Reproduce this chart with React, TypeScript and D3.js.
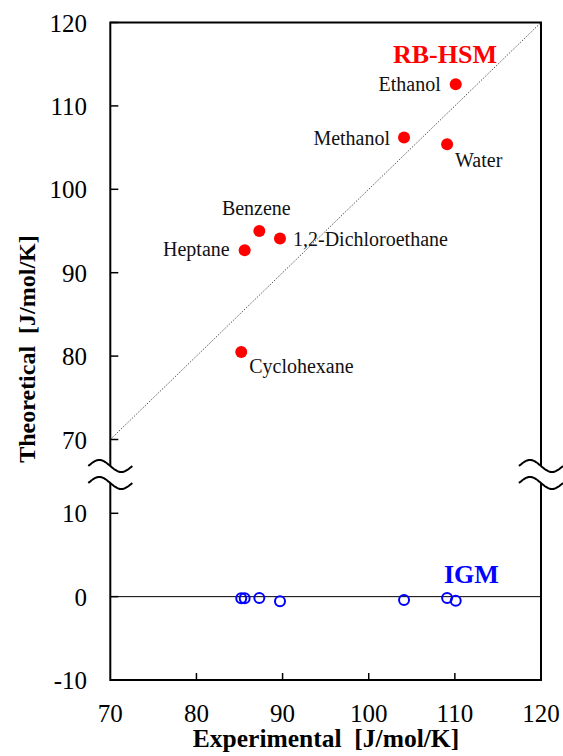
import React, { useEffect, useRef } from "react";
import * as d3 from "d3";

// solvents, experimental vs theoretical entropy [J/mol/K]
const solvents = ["Ethanol", "Methanol", "Water", "Benzene", "1,2-Dichloroethane", "Heptane", "Cyclohexane"];
const experimental = [110.1, 104.1, 109.1, 87.3, 89.7, 85.6, 85.2];
const rbHsm = [112.6, 106.2, 105.4, 95.0, 94.1, 92.7, 80.5];
const igm = [-0.5, -0.4, -0.15, -0.15, -0.55, -0.2, -0.2];

const xTicks = [70, 80, 90, 100, 110, 120];
const yUpperTicks = [70, 80, 90, 100, 110, 120];
const yLowerTicks = [-10, 0, 10];

// where each label sits relative to its dot
const labelPlace: Record<string, { dx: number; dy: number; anchor: string }> = {
  Ethanol: { dx: -15, dy: 7, anchor: "end" },
  Methanol: { dx: -14, dy: 7, anchor: "end" },
  Water: { dx: 8, dy: 23, anchor: "start" },
  Benzene: { dx: -3, dy: -16, anchor: "middle" },
  "1,2-Dichloroethane": { dx: 13, dy: 7, anchor: "start" },
  Heptane: { dx: -15, dy: 6, anchor: "end" },
  Cyclohexane: { dx: 8, dy: 21, anchor: "start" },
};

const FONT = "'Liberation Serif', 'Times New Roman', serif";

const App = () => {
  const svgRef = useRef<SVGSVGElement>(null);

  useEffect(() => {
    const width = 563;
    const height = 756;
    const left = 110.3;
    const right = 541;
    const top = 22.5;
    const bottom = 680;

    const svg = d3.select(svgRef.current).attr("width", width).attr("height", height);
    svg.selectAll("*").remove();

    const x = d3.scaleLinear().domain([70, 120]).range([left, right]);
    const yUp = d3.scaleLinear().domain([70, 120]).range([439.5, top]);
    const yLow = d3.scaleLinear().domain([-10, 10]).range([bottom, 513.3]);

    const g = svg.append("g");

    // y = x reference line
    g.append("line")
      .attr("x1", x(70))
      .attr("y1", yUp(70))
      .attr("x2", x(120))
      .attr("y2", yUp(120))
      .attr("stroke", "#555")
      .attr("stroke-width", 1)
      .attr("stroke-dasharray", "1.5,1.5");

    // zero line
    g.append("line")
      .attr("x1", left)
      .attr("x2", right)
      .attr("y1", yLow(0))
      .attr("y2", yLow(0))
      .attr("stroke", "#000")
      .attr("stroke-width", 1);

    // frame
    g.append("rect")
      .attr("x", left)
      .attr("y", top)
      .attr("width", right - left)
      .attr("height", bottom - top)
      .attr("fill", "none")
      .attr("stroke", "#000")
      .attr("stroke-width", 2);

    // ticks (inward)
    g.selectAll(".xt")
      .data(xTicks.slice(1, -1))
      .enter()
      .append("line")
      .attr("x1", (d) => x(d))
      .attr("x2", (d) => x(d))
      .attr("y1", bottom)
      .attr("y2", bottom - 7)
      .attr("stroke", "#000")
      .attr("stroke-width", 1.5);

    const yTickPos = [
      ...yUpperTicks.map((d) => ({ v: d, y: yUp(d) })),
      ...yLowerTicks.map((d) => ({ v: d, y: yLow(d) })),
    ];
    g.selectAll(".yt")
      .data(yTickPos)
      .enter()
      .append("line")
      .attr("x1", left)
      .attr("x2", left + 8)
      .attr("y1", (d) => d.y)
      .attr("y2", (d) => d.y)
      .attr("stroke", "#000")
      .attr("stroke-width", 1.5);

    // tick labels
    g.selectAll(".xl")
      .data(xTicks)
      .enter()
      .append("text")
      .attr("x", (d) => x(d))
      .attr("y", 721.5)
      .attr("text-anchor", "middle")
      .attr("font-family", FONT)
      .attr("font-size", 25)
      .text((d) => d);

    g.selectAll(".yl")
      .data(yTickPos)
      .enter()
      .append("text")
      .attr("x", 87)
      .attr("y", (d) => d.y + 9)
      .attr("text-anchor", "end")
      .attr("font-family", FONT)
      .attr("font-size", 25)
      .text((d) => d.v);

    // axis break marks
    const wave = (cx: number, cy: number) => {
      const pts: [number, number][] = d3.range(0, 41).map((i) => {
        const t = i / 40;
        return [cx - 22 + 44 * t, cy - 6 * Math.sin(2 * Math.PI * t)];
      });
      return pts;
    };
    const line = d3.line().curve(d3.curveBasis);
    [left, right].forEach((cx) => {
      const w1 = wave(cx, 466);
      const w2 = wave(cx, 483);
      g.append("path")
        .attr("d", (line(w1) || "") + "L" + w2.slice().reverse().map((p) => p.join(",")).join("L") + "Z")
        .attr("fill", "#fff")
        .attr("stroke", "none");
      [w1, w2].forEach((w) =>
        g.append("path")
          .attr("d", line(w))
          .attr("fill", "none")
          .attr("stroke", "#000")
          .attr("stroke-width", 2)
      );
    });

    // RB-HSM points
    g.selectAll(".rb")
      .data(solvents)
      .enter()
      .append("circle")
      .attr("cx", (_, i) => x(experimental[i]))
      .attr("cy", (_, i) => yUp(rbHsm[i]))
      .attr("r", 6)
      .attr("fill", "#ff0000");

    g.selectAll(".lab")
      .data(solvents)
      .enter()
      .append("text")
      .attr("x", (d, i) => x(experimental[i]) + labelPlace[d].dx)
      .attr("y", (d, i) => yUp(rbHsm[i]) + labelPlace[d].dy)
      .attr("text-anchor", (d) => labelPlace[d].anchor)
      .attr("font-family", FONT)
      .attr("font-size", 20)
      .attr("fill", "#111")
      .text((d) => d);

    // IGM points
    g.selectAll(".igm")
      .data(solvents)
      .enter()
      .append("circle")
      .attr("cx", (_, i) => x(experimental[i]))
      .attr("cy", (_, i) => yLow(igm[i]))
      .attr("r", 5)
      .attr("fill", "none")
      .attr("stroke", "#0000ff")
      .attr("stroke-width", 2);

    g.append("text")
      .attr("x", 445)
      .attr("y", 62.5)
      .attr("text-anchor", "middle")
      .attr("font-family", FONT)
      .attr("font-size", 26)
      .attr("font-weight", "bold")
      .attr("fill", "#ff0000")
      .text("RB-HSM");

    g.append("text")
      .attr("x", 444)
      .attr("y", 583)
      .attr("font-family", FONT)
      .attr("font-size", 26)
      .attr("font-weight", "bold")
      .attr("fill", "#0000ff")
      .text("IGM");

    // axis titles
    g.append("text")
      .attr("x", 326)
      .attr("y", 747)
      .attr("text-anchor", "middle")
      .attr("font-family", FONT)
      .attr("font-size", 25.5)
      .attr("font-weight", "bold")
      .attr("xml:space", "preserve")
      .text("Experimental  [J/mol/K]");

    g.append("text")
      .attr("transform", "translate(35,349) rotate(-90)")
      .attr("text-anchor", "middle")
      .attr("font-family", FONT)
      .attr("font-size", 24)
      .attr("font-weight", "bold")
      .attr("xml:space", "preserve")
      .text("Theoretical  [J/mol/K]");
  }, []);

  return <svg ref={svgRef} style={{ position: "absolute", left: 0, top: 0, background: "#fff" }}></svg>;
};

export default App;
